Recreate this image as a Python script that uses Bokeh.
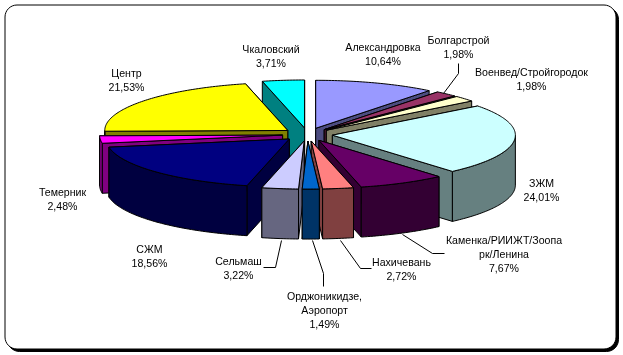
import math
from bokeh.plotting import figure
from bokeh.models import ColumnDataSource, Range1d
from bokeh.core.properties import value
from bokeh.embed import file_html
from bokeh.resources import INLINE

names = ["Александровка", "Болгарстрой", "Военвед/Стройгородок", "ЗЖМ",
         "Каменка/РИИЖТ/Зоопа\nрк/Ленина", "Нахичевань", "Орджоникидзе,\nАэропорт",
         "Сельмаш", "СЖМ", "Темерник", "Центр", "Чкаловский"]
shares = [10.64, 1.98, 1.98, 24.01, 7.67, 2.72, 1.49, 3.22, 18.56, 2.48, 21.53, 3.71]
top_colors = ["#9999FF", "#993366", "#FFFFCC", "#CCFFFF", "#660066", "#FF8080",
              "#0066CC", "#CCCCFF", "#000080", "#FF00FF", "#FFFF00", "#00FFFF"]
side_colors = ["#4C4C80", "#4D1A33", "#808066", "#668080", "#330033", "#804040",
               "#003366", "#666680", "#000040", "#800080", "#808000", "#008080"]

# layout: label anchor (centre x, first line y) and leader polylines, in pixels
label_pos = [(382.5, 46), (458, 39), (531, 71), (541, 182), (503.5, 239), (401, 261),
             (324, 295), (238, 260), (149, 248), (62, 191), (126, 72), (270.5, 48)]
leaders = [[(458, 63), (458, 73), (443, 93)],
           [(281, 240), (275, 267), (263, 267)],
           [(312, 240), (323, 273), (323, 286)],
           [(340, 240), (360, 268), (371, 268)],
           [(402, 234), (432, 253), (444, 253)]]

CX, CY, RX, RY, EXPLODE, DEPTH = 307.0, 134.0, 183.0, 48.0, 25.0, 50.0
W, H = 623, 355

total = sum(shares)
def point(ax, ay, deg):
    a = math.radians(deg)
    return ax + RX * math.sin(a), ay - RY * math.cos(a)

polys = []
start = 0.0
slices = []
for v, tc, sc in zip(shares, top_colors, side_colors):
    end = start + v / total * 360.0
    slices.append((start, end, tc, sc))
    start = end

def arc(a0, a1):
    n = max(2, int(abs(a1 - a0)) + 2)
    return [a0 + (a1 - a0) * i / (n - 1) for i in range(n)]

# back to front
for a0, a1, tc, sc in sorted(slices, key=lambda s: -math.cos(math.radians((s[0] + s[1]) / 2))):
    mid = math.radians((a0 + a1) / 2)
    ax = CX + EXPLODE * math.sin(mid)
    ay = CY - EXPLODE * RY / RX * math.cos(mid)
    walls = []
    for a in sorted((a0, a1), key=lambda d: point(ax, ay, d)[1]):
        px, py = point(ax, ay, a)
        walls.append(([ax, px, px, ax], [ay, py, py + DEPTH, ay + DEPTH], sc))
    f0, f1 = max(a0, 90.0), min(a1, 270.0)
    if f0 < f1:
        pts = [point(ax, ay, d) for d in arc(f0, f1)]
        walls.append(([q[0] for q in pts] + [q[0] for q in reversed(pts)],
                      [q[1] for q in pts] + [q[1] + DEPTH for q in reversed(pts)], sc))
    pts = [point(ax, ay, d) for d in arc(a0, a1)]
    walls.append(([ax] + [q[0] for q in pts], [ay] + [q[1] for q in pts], tc))
    polys.extend(walls)

src = ColumnDataSource(dict(xs=[q[0] for q in polys], ys=[q[1] for q in polys], c=[q[2] for q in polys]))

p = figure(width=W, height=H, output_backend="svg", toolbar_location=None,
           x_range=Range1d(0, W), y_range=Range1d(H, 0), min_border=0,
           x_axis_type=None, y_axis_type=None, outline_line_color=None)
p.grid.visible = False
p.styles = {"position": "fixed", "left": "0px", "top": "0px"}

def rrect(x0, y0, x1, y1, r):
    xs, ys = [], []
    for cx, cy, s in ((x1 - r, y0 + r, 0), (x1 - r, y1 - r, 90), (x0 + r, y1 - r, 180), (x0 + r, y0 + r, 270)):
        for i in range(9):
            a = math.radians(s + i * 90 / 8)
            xs.append(cx + r * math.sin(a))
            ys.append(cy - r * math.cos(a))
    return xs, ys

sx, sy = rrect(7, 7, 618, 351, 12)
p.patch(sx, sy, fill_color="black", line_color="black")
fx, fy = rrect(4.5, 4.5, 615.5, 348.5, 12)
p.patch(fx, fy, fill_color="white", line_color="black", line_width=1)

p.patches("xs", "ys", source=src, fill_color="c", line_color="black", line_width=1)

for l in leaders:
    p.line([q[0] for q in l], [q[1] for q in l], line_color="black", line_width=1)

tx, ty, tt = [], [], []
for n, v, (x, y) in zip(names, shares, label_pos):
    lines = n.split("\n") + [f"{v:.2f}".replace(".", ",") + "%"]
    for i, s in enumerate(lines):
        tx.append(x); ty.append(y + 14 * i); tt.append(s)
p.text(tx, ty, text=tt, text_font=value("Liberation Sans"), text_font_size="10.6px",
       text_color="black", text_align="center", text_baseline="middle")

open("out.html", "w").write(file_html(p, INLINE))
